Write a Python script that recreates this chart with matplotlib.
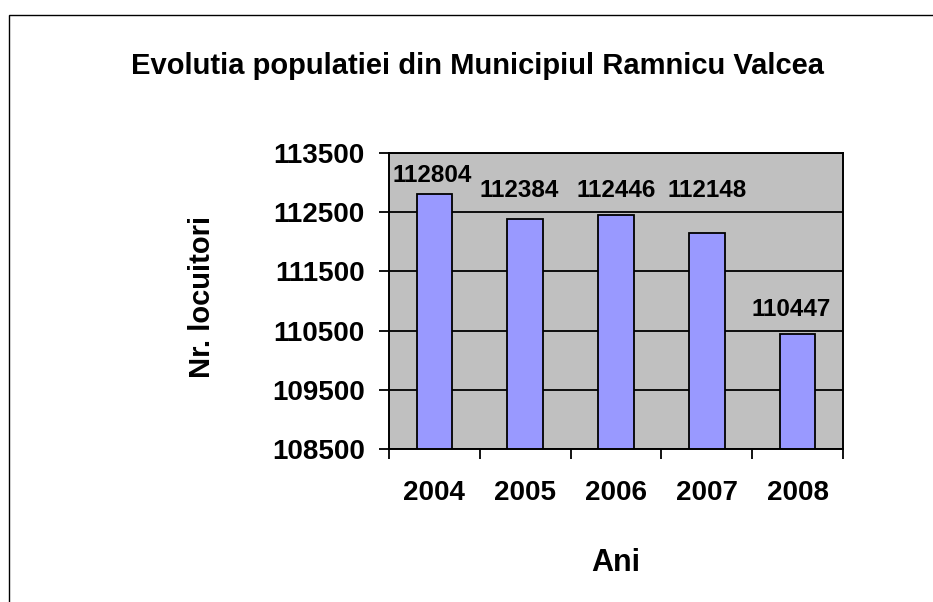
import matplotlib
matplotlib.use('Agg')
import matplotlib.pyplot as plt
from matplotlib.patches import Rectangle
from matplotlib.ticker import FixedLocator, NullFormatter
import numpy as np

years = ['2004', '2005', '2006', '2007', '2008']
population = [112804, 112384, 112446, 112148, 110447]
yticks = [108500, 109500, 110500, 111500, 112500, 113500]
# label nudges (px) copied from the excel layout
label_dy = [7, 17, 13, 31, 13]
label_dx = [-2, -6, 0, 0, -6]

plt.rcParams['font.family'] = ['Liberation Sans', 'DejaVu Sans']
plt.rcParams['font.weight'] = 'bold'

W, H = 933, 602
fig = plt.figure(figsize=(W / 100, H / 100), dpi=100)
fig.patch.set_facecolor('white')

# outer chart frame (only top/left edges visible)
fig.patches.append(Rectangle((9 / W, -0.1), 1.2, (H - 15) / H + 0.1,
                             transform=fig.transFigure, fill=False,
                             edgecolor='black', linewidth=1.0))

ax = fig.add_axes([389 / W, (H - 449) / H, (843 - 389) / W, (449 - 153) / H])
ax.set_facecolor('#C0C0C0')

x = np.arange(len(years))
ax.bar(x, population, width=0.39, color='#9999FF', edgecolor='black',
       linewidth=1.3, zorder=3)

ax.set_xlim(-0.5, len(years) - 0.5)
ax.set_ylim(yticks[0], yticks[-1])
ax.set_yticks(yticks)
ax.set_yticklabels([str(v) for v in yticks], fontsize=20, fontweight='bold')
ax.yaxis.grid(True, color='black', linewidth=1.3, zorder=1)
ax.set_axisbelow(True)

ax.set_xticks(x)
ax.set_xticklabels(years, fontsize=20, fontweight='bold')
ax.xaxis.set_minor_locator(FixedLocator(np.arange(-0.5, len(years), 1.0)))
ax.xaxis.set_minor_formatter(NullFormatter())
ax.tick_params(axis='x', which='major', length=0, pad=22)
ax.tick_params(axis='x', which='minor', length=7.5, width=1.3, direction='out')
ax.tick_params(axis='y', length=7.5, width=1.3, direction='out', pad=10)

for s in ax.spines.values():
    s.set_linewidth(1.4)
    s.set_color('black')
    s.set_zorder(4)

for i, v in enumerate(population):
    ax.annotate(str(v), (x[i], v), xytext=(label_dx[i] * 0.72, label_dy[i] * 0.72),
                textcoords='offset points', ha='center', va='bottom',
                fontsize=17.5, fontweight='bold', zorder=5)

fig.text(477.5 / W, (H - 74) / H, 'Evolutia populatiei din Municipiul Ramnicu Valcea',
         ha='center', va='baseline', fontsize=21, fontweight='bold')
fig.text(616 / W, (H - 571) / H, 'Ani', ha='center', va='baseline',
         fontsize=22, fontweight='bold')
fig.text(202 / W, (H - 297) / H, 'Nr. locuitori', rotation=90, ha='center',
         va='center', fontsize=21, fontweight='bold')

fig.savefig('out.png', dpi=100)
